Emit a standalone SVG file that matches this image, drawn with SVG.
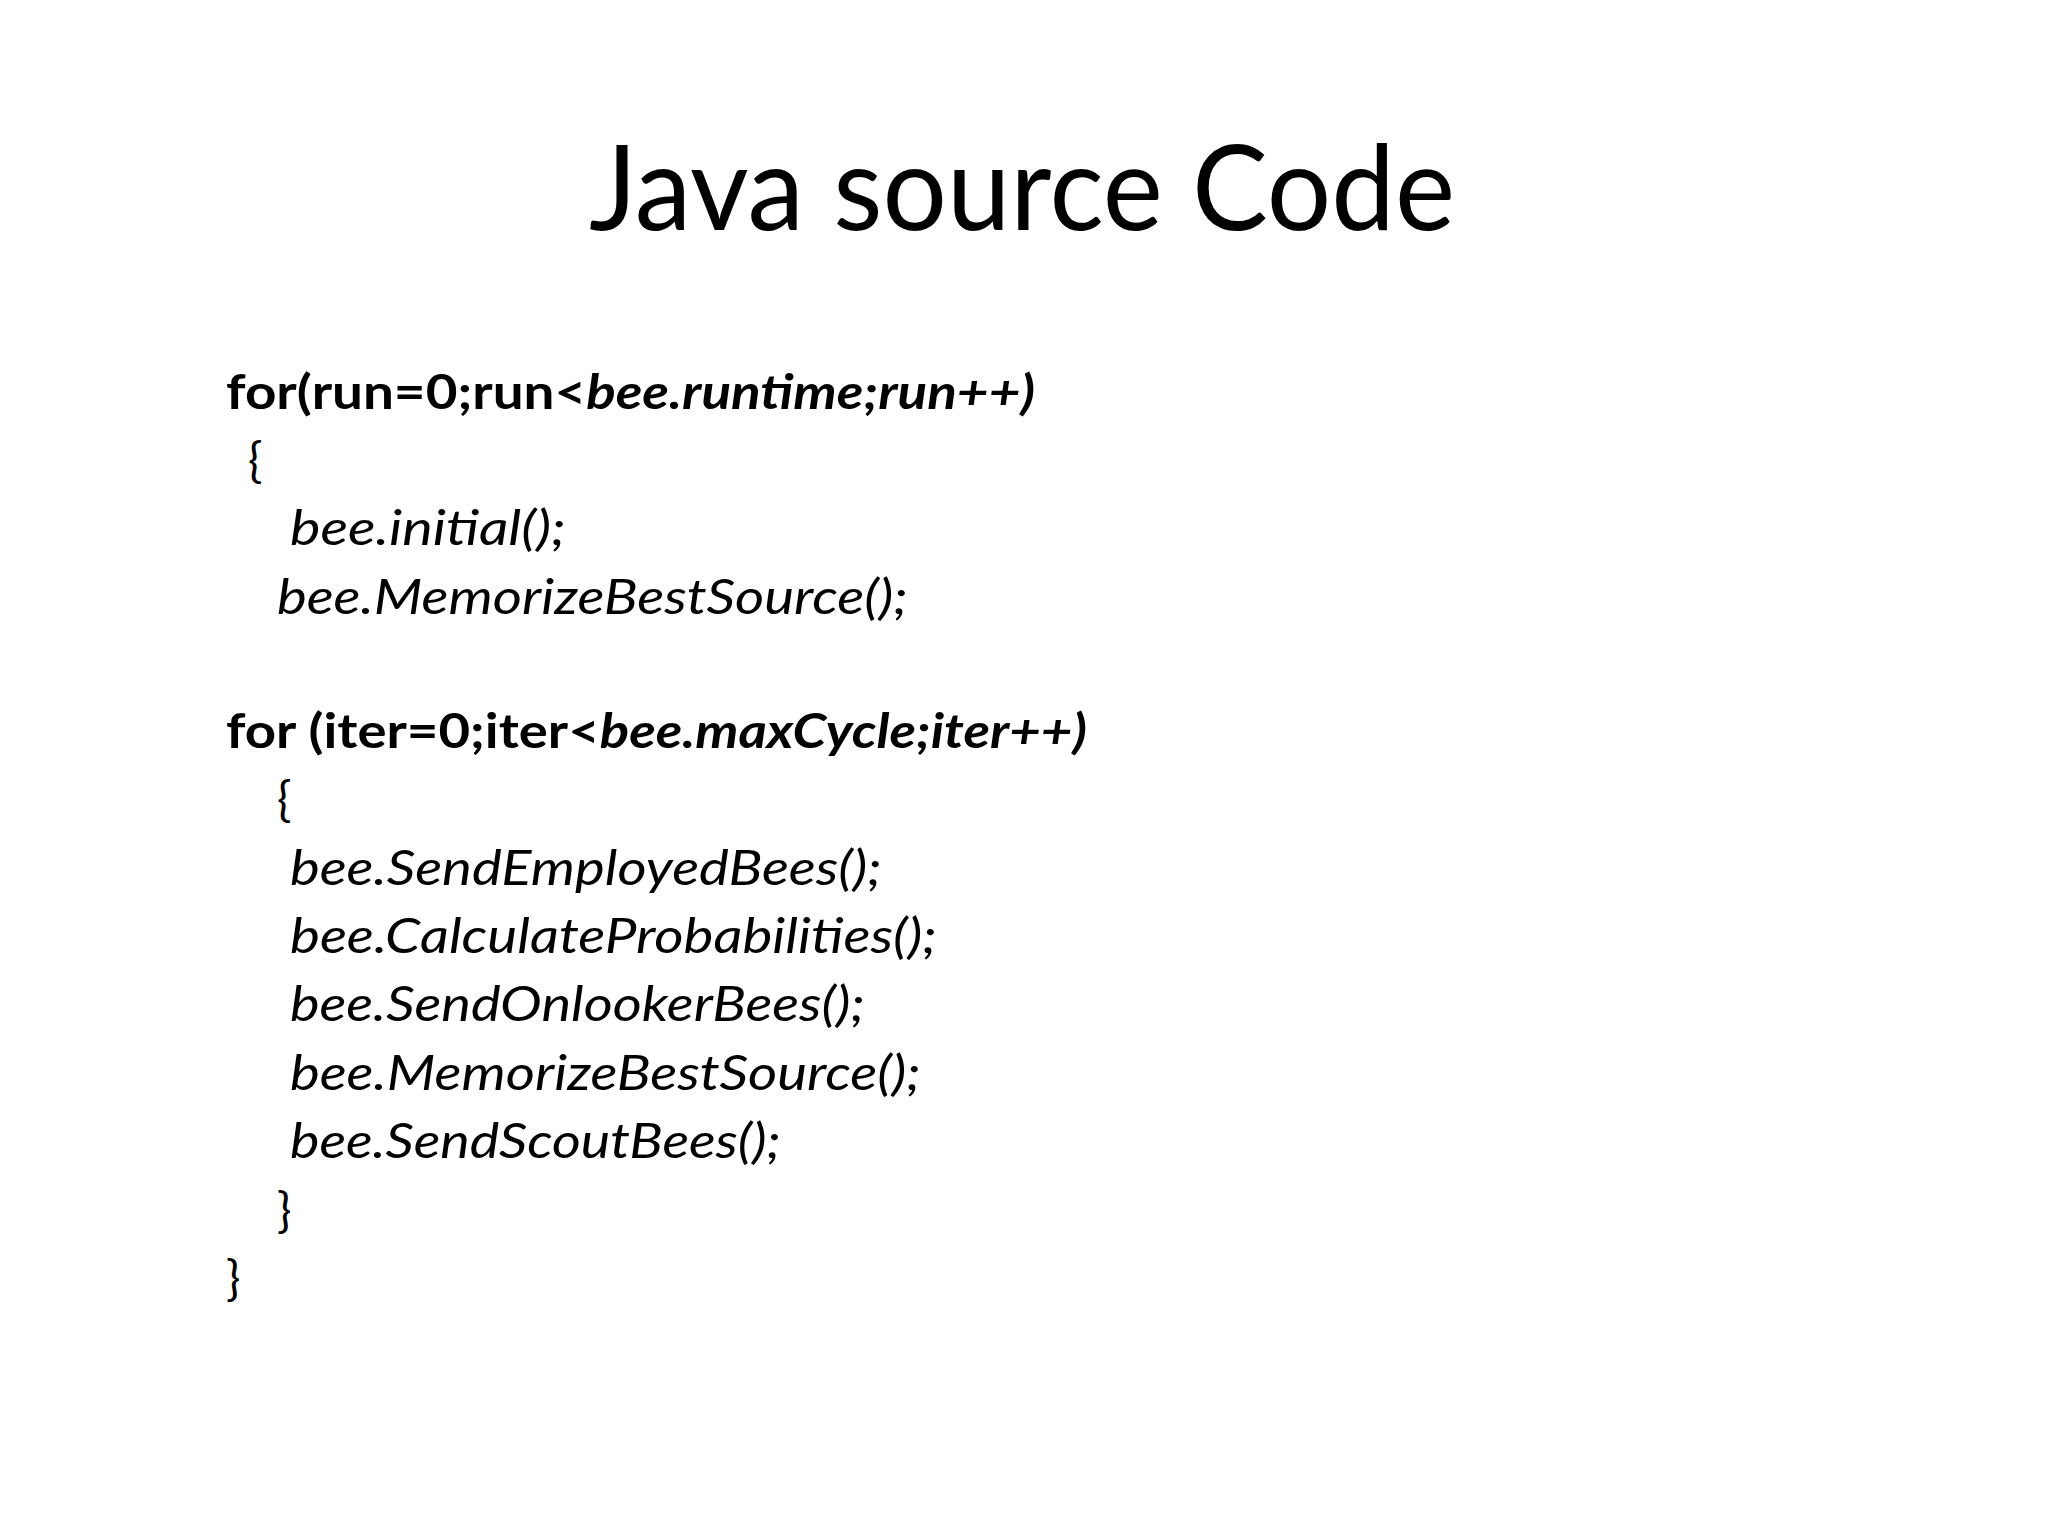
<svg xmlns="http://www.w3.org/2000/svg" width="2048" height="1536" viewBox="0 0 2048 1536">
<style>
text{font-family:Lato,"Open Sans","Liberation Sans",sans-serif;fill:#000}
.c{font-size:48px}
.b{font-weight:bold}
.i{font-style:italic}
</style>
<rect width="2048" height="1536" fill="#fff"/>
<text x="1022" y="230" text-anchor="middle" font-size="118" textLength="866" lengthAdjust="spacingAndGlyphs">Java source Code</text>
<g class="c">
<text x="226" y="409" class="b" textLength="809" lengthAdjust="spacingAndGlyphs">for(run=0;run&lt;<tspan class="i">bee.runtime;run++)</tspan></text>
<text x="248" y="477">{</text>
<text x="290" y="545" class="i" textLength="276" lengthAdjust="spacingAndGlyphs">bee.initial();</text>
<text x="277" y="614" class="i" textLength="631" lengthAdjust="spacingAndGlyphs">bee.MemorizeBestSource();</text>
<text x="226" y="748" class="b" textLength="861" lengthAdjust="spacingAndGlyphs">for (iter=0;iter&lt;<tspan class="i">bee.maxCycle;iter++)</tspan></text>
<text x="277" y="816">{</text>
<text x="290" y="885" class="i" textLength="592" lengthAdjust="spacingAndGlyphs">bee.SendEmployedBees();</text>
<text x="290" y="953" class="i" textLength="647" lengthAdjust="spacingAndGlyphs">bee.CalculateProbabilities();</text>
<text x="290" y="1021" class="i" textLength="575" lengthAdjust="spacingAndGlyphs">bee.SendOnlookerBees();</text>
<text x="290" y="1090" class="i" textLength="631" lengthAdjust="spacingAndGlyphs">bee.MemorizeBestSource();</text>
<text x="290" y="1158" class="i" textLength="491" lengthAdjust="spacingAndGlyphs">bee.SendScoutBees();</text>
<text x="277" y="1227">}</text>
<text x="226" y="1295">}</text>
</g>
</svg>
